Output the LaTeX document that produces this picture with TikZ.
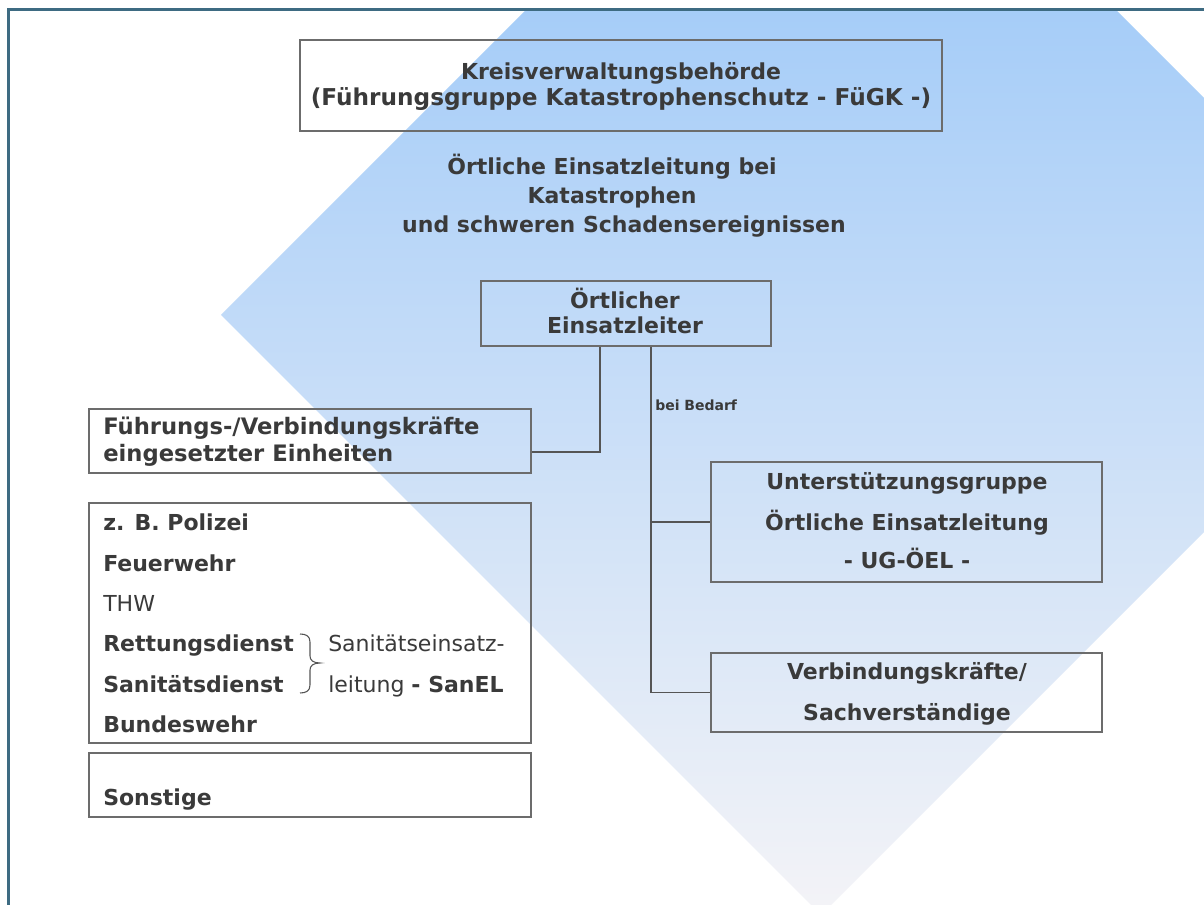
\documentclass[tikz,border=0pt]{standalone}
\usepackage{fontspec}
\setmainfont{DejaVu Sans}
\usetikzlibrary{fit}
\definecolor{framec}{RGB}{62,107,130}
\definecolor{txt}{RGB}{58,58,58}
\definecolor{boxline}{RGB}{108,108,108}
\definecolor{conn}{RGB}{85,85,85}
\definecolor{dtop}{RGB}{166,205,248}
\definecolor{dmid}{RGB}{204,222,244}
\definecolor{dbot}{RGB}{243,243,247}
\begin{document}
\begin{tikzpicture}[x=0.75pt,y=-0.75pt,
  box/.style={draw=boxline, line width=1.2pt, inner sep=0pt},
  lbl/.style={inner sep=0pt, text=txt, font=\fontsize{16.5}{20}\selectfont\bfseries},
  lblr/.style={inner sep=0pt, text=txt, font=\fontsize{16.5}{20}\selectfont},
  small/.style={inner sep=0pt, text=txt, font=\fontsize{10.5}{12}\selectfont\bfseries},
  conline/.style={draw=conn, line width=0.9pt}]
\useasboundingbox (0,0) rectangle (1204,905);
\fill[white] (0,0) rectangle (1204,905);
% background diamond
\begin{scope}
  \clip (9,10) rectangle (1204,905);
  \clip (821,-285) -- (1421,315) -- (821,915) -- (221,315) -- cycle;
  \shade[top color=dtop, middle color=dmid, bottom color=dbot] (9,10) rectangle (1204,905);
\end{scope}
% frame
\draw[framec, line width=1.6pt] (8.5,905) -- (8.5,9.5) -- (1204,9.5);

% boxes
\coordinate (a1) at (300,40);  \coordinate (b1) at (942,131);
\node[box, fit=(a1)(b1)] (kvb) {};
\coordinate (a2) at (481,281); \coordinate (b2) at (771,346);
\node[box, fit=(a2)(b2)] (oel) {};
\coordinate (a3) at (89,409);  \coordinate (b3) at (531,473);
\node[box, fit=(a3)(b3)] (fv) {};
\coordinate (a4) at (89,503);  \coordinate (b4) at (531,743);
\node[box, fit=(a4)(b4)] (pol) {};
\coordinate (a5) at (89,753);  \coordinate (b5) at (531,817);
\node[box, fit=(a5)(b5)] (son) {};
\coordinate (a6) at (711,462); \coordinate (b6) at (1102,582);
\node[box, fit=(a6)(b6)] (ug) {};
\coordinate (a7) at (711,653); \coordinate (b7) at (1102,732);
\node[box, fit=(a7)(b7)] (vk) {};

% texts
\node[lbl, anchor=base] (k1) at (621,80) {Kreisverwaltungsbehörde};
\node[lbl, anchor=base, font=\fontsize{17.4}{20}\selectfont\bfseries] (k2) at (621,106) {(Führungsgruppe Katastrophenschutz - FüGK -)};
\node[lbl, anchor=base] (h1) at (612,175) {Örtliche Einsatzleitung bei};
\node[lbl, anchor=base] (h2) at (612,204) {Katastrophen};
\node[lbl, anchor=base] (h3) at (624,233) {und schweren Schadensereignissen};
\node[lbl, anchor=base] (o1) at (625,309) {Örtlicher};
\node[lbl, anchor=base] (o2) at (625,334) {Einsatzleiter};
\node[lbl, anchor=base west, font=\fontsize{17}{20}\selectfont\bfseries] (f1) at (103,435) {Führungs-/Verbindungskräfte};
\node[lbl, anchor=base west, font=\fontsize{17}{20}\selectfont\bfseries] (f2) at (103,462) {eingesetzter Einheiten};
\node[lbl, anchor=base west] (p1) at (103,531) {z. B. Polizei};
\node[lbl, anchor=base west] (p2) at (103,571) {Feuerwehr};
\node[lblr, anchor=base west] (p3) at (103,611) {THW};
\node[lbl, anchor=base west] (p4) at (103,651) {Rettungsdienst};
\node[lbl, anchor=base west] (p5) at (103,692) {Sanitätsdienst};
\node[lbl, anchor=base west] (p6) at (103,732) {Bundeswehr};
\node[lblr, anchor=base west] (s1) at (328,651) {Sanitätseinsatz-};
\node[lblr, anchor=base west] (s2) at (328,692) {leitung \textbf{- SanEL}};
\node[lbl, anchor=base west] (so) at (103,805) {Sonstige};
\node[lbl, anchor=base] (u1) at (907,490) {Unterstützungsgruppe};
\node[lbl, anchor=base] (u2) at (907,531) {Örtliche Einsatzleitung};
\node[lbl, anchor=base] (u3) at (907,569) {- UG-ÖEL -};
\node[lbl, anchor=base] (v1) at (907,679) {Verbindungskräfte/};
\node[lbl, anchor=base] (v2) at (907,720) {Sachverständige};
\node[small, anchor=base west] (bb) at (655,411) {bei Bedarf};

% brace
\draw[conn, line width=0.8pt] (300,634) .. controls (306,634) and (310,636) .. (310,642) -- (310,656) .. controls (310,660) and (313,663) .. (320,663) .. controls (313,663) and (310,666) .. (310,670) -- (310,685) .. controls (310,691) and (306,693) .. (300,693);

% connectors
\coordinate (j1) at (600,452);
\coordinate (j2) at (651,522);
\draw[conline] (oel.south -| j1) -- (j1) -- (j1 -| fv.east);
\draw[conline] (oel.south -| j2) |- (vk.west);
\draw[conline] (j2) -- (ug.west);
\end{tikzpicture}
\end{document}
